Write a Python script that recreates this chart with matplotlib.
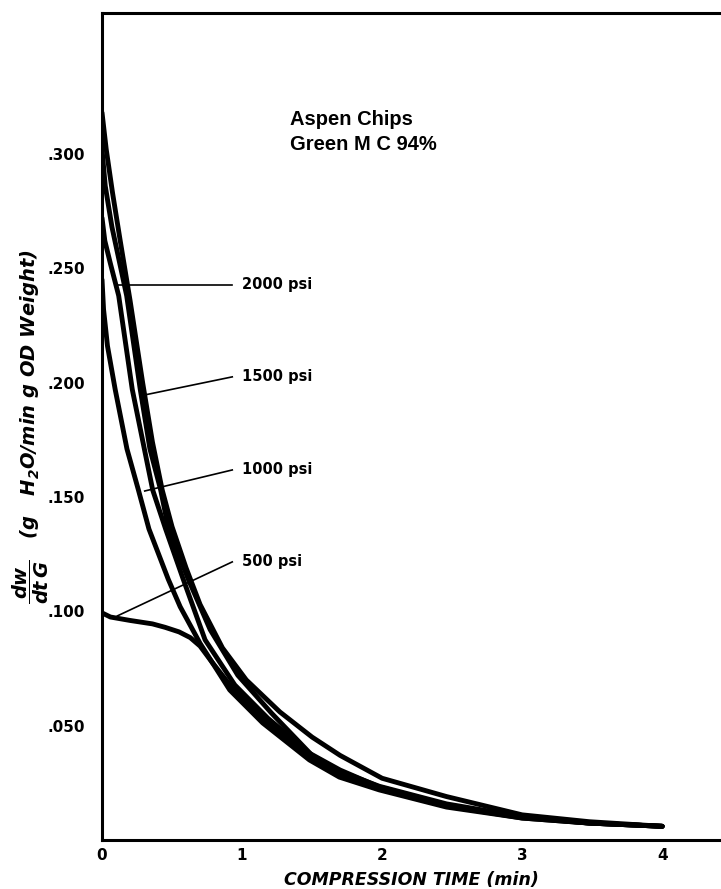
import matplotlib.pyplot as plt

# drying rate curves, dw/dt G vs compression time (min)
time_a = [0.0, 0.03, 0.075, 0.13, 0.2, 0.29, 0.36, 0.43, 0.5, 0.6, 0.7, 0.86, 1.03, 1.27, 1.5, 1.7, 2.0, 2.46, 3.0, 3.48, 4.0]
rate_a = [0.318, 0.302, 0.283, 0.262, 0.236, 0.200, 0.174, 0.153, 0.137, 0.119, 0.103, 0.084, 0.070, 0.056, 0.045, 0.037, 0.027, 0.019, 0.011, 0.008, 0.006]

time_b = [0.0, 0.023, 0.071, 0.176, 0.273, 0.342, 0.419, 0.475, 0.616, 0.772, 0.97, 1.21, 1.5, 1.7, 1.98, 2.46, 3.0, 3.48, 4.0]
rate_b = [0.302, 0.286, 0.268, 0.238, 0.197, 0.171, 0.153, 0.136, 0.114, 0.092, 0.072, 0.0555, 0.037, 0.030, 0.0235, 0.0158, 0.0102, 0.0074, 0.006]

time_c = [0.0, 0.02, 0.06, 0.119, 0.216, 0.362, 0.454, 0.58, 0.736, 0.948, 1.183, 1.48, 1.7, 1.98, 2.46, 3.0, 3.48, 4.0]
rate_c = [0.272, 0.262, 0.252, 0.238, 0.197, 0.153, 0.136, 0.114, 0.0875, 0.0678, 0.0533, 0.038, 0.0306, 0.0232, 0.0153, 0.0101, 0.0074, 0.006]

time_d = [0.0, 0.011, 0.039, 0.094, 0.178, 0.26, 0.335, 0.473, 0.558, 0.70, 0.912, 1.147, 1.481, 1.695, 1.98, 2.46, 3.0, 3.48, 4.0]
rate_d = [0.245, 0.232, 0.216, 0.197, 0.171, 0.153, 0.136, 0.114, 0.102, 0.086, 0.0656, 0.0512, 0.035, 0.0275, 0.0219, 0.0144, 0.0096, 0.0074, 0.006]

time_500 = [0.0, 0.06, 0.2, 0.36, 0.45, 0.55, 0.63, 0.70, 0.785, 0.93, 1.16, 1.49, 1.7, 1.98, 2.46, 3.0, 3.48, 4.0]
rate_500 = [0.0993, 0.0975, 0.096, 0.0945, 0.093, 0.091, 0.0885, 0.0848, 0.0778, 0.0665, 0.0525, 0.0363, 0.029, 0.0227, 0.015, 0.0096, 0.0074, 0.006]

# pressure labels with their leader lines
pressure_labels = ['2000 psi', '1500 psi', '1000 psi', '500 psi']
label_rate = [0.2427, 0.2025, 0.1618, 0.1216]
leader_time = [0.095, 0.305, 0.305, 0.11]
leader_rate = [0.2427, 0.1946, 0.1526, 0.098]

x_ticks = [0, 1, 2, 3, 4]
y_ticks = [0.05, 0.10, 0.15, 0.20, 0.25, 0.30]
y_tick_labels = ['.050', '.100', '.150', '.200', '.250', '.300']

plt.rcParams['mathtext.fontset'] = 'custom'
plt.rcParams['mathtext.rm'] = 'DejaVu Sans:bold:italic'
plt.rcParams['mathtext.it'] = 'DejaVu Sans:bold:italic'
plt.rcParams['mathtext.bf'] = 'DejaVu Sans:bold:italic'

fig = plt.figure(figsize=(7.21, 8.89), dpi=100)
ax = fig.add_axes([0.1415, 0.0551, 0.8585, 0.9303])

for t, r in [(time_a, rate_a), (time_b, rate_b), (time_c, rate_c),
             (time_d, rate_d), (time_500, rate_500)]:
    ax.plot(t, r, color='black', linewidth=3.5, solid_capstyle='round',
            solid_joinstyle='round')

for lab, ly, lt, lr in zip(pressure_labels, label_rate, leader_time, leader_rate):
    ax.plot([lt, 0.93], [lr, ly], color='black', linewidth=1.2)
    ax.text(1.0, ly, lab, fontsize=10.5, fontweight='bold', ha='left', va='center',
            family='DejaVu Sans')

ax.text(1.343, 0.3094, 'Aspen Chips\nGreen M C 94%', fontsize=14.5, fontweight='bold',
        family='Liberation Sans', ha='left', va='center', linespacing=1.4)

ax.set_xlim(0, 4.42)
ax.set_ylim(0, 0.3616)
ax.set_xticks(x_ticks)
ax.set_xticklabels([str(v) for v in x_ticks], fontsize=11, fontweight='bold')
ax.set_yticks(y_ticks)
ax.set_yticklabels(y_tick_labels, fontsize=11, fontweight='bold')
ax.tick_params(axis='both', length=0)
ax.tick_params(axis='y', pad=12)
ax.tick_params(axis='x', pad=6)

for side in ['left', 'bottom', 'top']:
    ax.spines[side].set_linewidth(2.2)
ax.spines['right'].set_visible(False)

ax.set_xlabel('COMPRESSION TIME (min)', fontsize=12.5, fontweight='bold', fontstyle='italic')
ax.xaxis.set_label_coords(0.5, -0.037)
ax.set_ylabel(r'$\dfrac{dw}{dt\,G}$   (g   H$_2$O/min g OD Weight)', fontsize=14,
              fontweight='bold', fontstyle='italic')
ax.yaxis.set_label_coords(-0.082, 0.5)

fig.savefig('out.png', dpi=100)
